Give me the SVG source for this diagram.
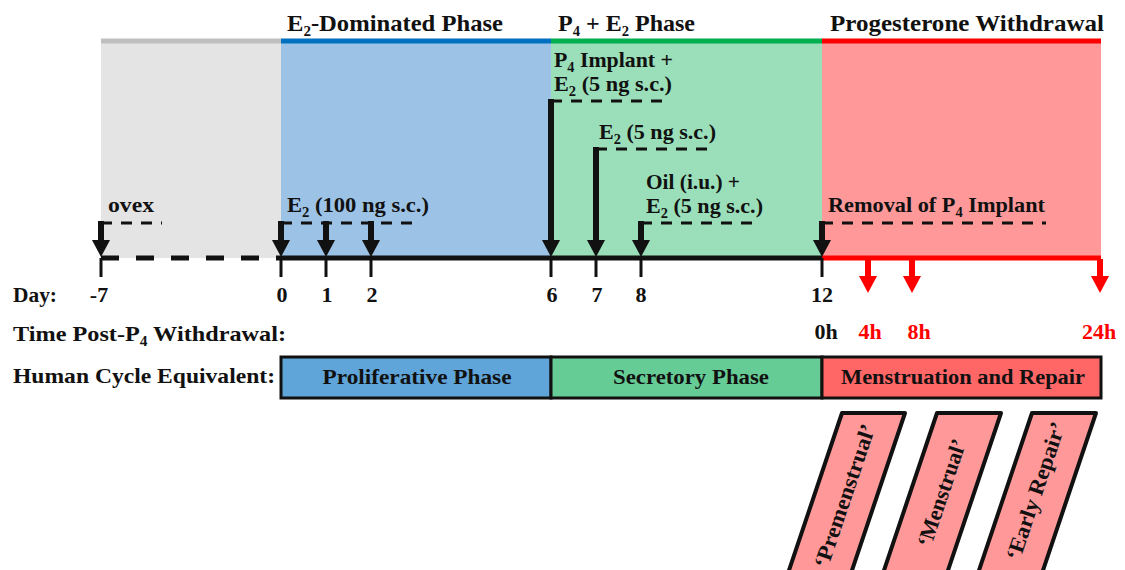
<svg xmlns="http://www.w3.org/2000/svg" xmlns:xlink="http://www.w3.org/1999/xlink" width="1125" height="570" viewBox="0 0 1125 570">
<style>
text{font-family:"Liberation Serif","Times New Roman",serif;font-weight:bold;fill:#111}
.t{font-size:23px}
.a{font-size:21.5px}
.l{font-size:22px}
.red{fill:#ff0000}
.sub{font-size:14px}
.dash{stroke:#111;stroke-width:3;stroke-dasharray:11 9;fill:none}
.tick{stroke:#111;stroke-width:3}
.shaft{stroke:#111;stroke-width:6}
.rshaft{stroke:#ff0000;stroke-width:6}
.box{stroke:#111;stroke-width:3}
.para{fill:#ff9999;stroke:#111;stroke-width:4;stroke-linejoin:round}
</style>
<defs>
<polygon id="ah" points="-9,-17 9,-17 0,0" fill="#111"/>
<polygon id="rah" points="-9,-17 9,-17 0,0" fill="#ff0000"/>
</defs>
<rect width="1125" height="570" fill="#ffffff"/>

<g id="band-ovex">
<rect x="101" y="43" width="180" height="215" fill="#e4e4e4"/>
<line x1="101" y1="41" x2="281" y2="41" stroke="#bfbfbf" stroke-width="5"/>
</g>
<g id="band-e2">
<rect x="281" y="43" width="270" height="215" fill="#9cc3e5"/>
<line x1="281" y1="41" x2="551" y2="41" stroke="#0070c0" stroke-width="5"/>
<text class="t" x="287" y="31" textLength="216" lengthAdjust="spacingAndGlyphs">E<tspan class="sub" dy="5">2</tspan><tspan dy="-5">-Dominated Phase</tspan></text>
</g>
<g id="band-p4e2">
<rect x="551" y="43" width="271" height="215" fill="#9adfb9"/>
<line x1="551" y1="41" x2="822" y2="41" stroke="#00b050" stroke-width="5"/>
<text class="t" x="558" y="31" textLength="137" lengthAdjust="spacingAndGlyphs">P<tspan class="sub" dy="5">4</tspan><tspan dy="-5"> + E</tspan><tspan class="sub" dy="5">2</tspan><tspan dy="-5"> Phase</tspan></text>
</g>
<g id="band-withdrawal">
<rect x="822" y="43" width="279" height="215" fill="#ff9999"/>
<line x1="822" y1="41" x2="1101" y2="41" stroke="#ff0000" stroke-width="5"/>
<text class="t" x="830" y="31" textLength="274" lengthAdjust="spacingAndGlyphs">Progesterone Withdrawal</text>
</g>

<g id="label-ovex"><text class="a" x="108" y="212" textLength="46" lengthAdjust="spacingAndGlyphs">ovex</text></g>
<g id="label-e2-100"><text class="a" x="287" y="212" textLength="142" lengthAdjust="spacingAndGlyphs">E<tspan class="sub" dy="5">2</tspan><tspan dy="-5"> (100 ng s.c.)</tspan></text></g>
<g id="label-p4-implant">
<text class="a" x="554" y="67" textLength="119" lengthAdjust="spacingAndGlyphs">P<tspan class="sub" dy="5">4</tspan><tspan dy="-5"> Implant +</tspan></text>
<text class="a" x="554" y="91" textLength="118" lengthAdjust="spacingAndGlyphs">E<tspan class="sub" dy="5">2</tspan><tspan dy="-5"> (5 ng s.c.)</tspan></text>
</g>
<g id="label-e2-5"><text class="a" x="599" y="139" textLength="117" lengthAdjust="spacingAndGlyphs">E<tspan class="sub" dy="5">2</tspan><tspan dy="-5"> (5 ng s.c.)</tspan></text></g>
<g id="label-oil">
<text class="a" x="646" y="189" textLength="94" lengthAdjust="spacingAndGlyphs">Oil (i.u.) +</text>
<text class="a" x="646" y="213" textLength="117" lengthAdjust="spacingAndGlyphs">E<tspan class="sub" dy="5">2</tspan><tspan dy="-5"> (5 ng s.c.)</tspan></text>
</g>
<g id="label-removal"><text class="a" x="828" y="212" textLength="217" lengthAdjust="spacingAndGlyphs">Removal of P<tspan class="sub" dy="5">4</tspan><tspan dy="-5"> Implant</tspan></text></g>

<g id="connectors">
<line x1="101" y1="258" x2="281" y2="258" stroke="#111" stroke-width="5" stroke-dasharray="18 17"/>
<line x1="281" y1="258" x2="822" y2="258" stroke="#111" stroke-width="5"/>
<line x1="822" y1="258" x2="1101" y2="258" stroke="#ff0000" stroke-width="5"/>
<line class="tick" x1="101" y1="258" x2="101" y2="277"/>
<line class="tick" x1="281" y1="258" x2="281" y2="277"/>
<line class="tick" x1="326" y1="258" x2="326" y2="277"/>
<line class="tick" x1="371" y1="258" x2="371" y2="277"/>
<line class="tick" x1="551" y1="258" x2="551" y2="277"/>
<line class="tick" x1="596" y1="258" x2="596" y2="277"/>
<line class="tick" x1="641" y1="258" x2="641" y2="277"/>
<line class="tick" x1="822" y1="258" x2="822" y2="277"/>
<path class="dash" d="M101,223 H162"/>
<path class="dash" d="M281,223 H420"/>
<path class="dash" d="M551,101 H668"/>
<path class="dash" d="M596,149 H714"/>
<path class="dash" d="M641,223 H758"/>
<path class="dash" d="M822,223 H1046"/>
<line class="shaft" x1="101" y1="221" x2="101" y2="243"/><use xlink:href="#ah" x="101" y="257"/>
<line class="shaft" x1="281" y1="221" x2="281" y2="243"/><use xlink:href="#ah" x="281" y="257"/>
<line class="shaft" x1="326" y1="221" x2="326" y2="243"/><use xlink:href="#ah" x="326" y="257"/>
<line class="shaft" x1="371" y1="221" x2="371" y2="243"/><use xlink:href="#ah" x="371" y="257"/>
<line class="shaft" x1="551" y1="99" x2="551" y2="243"/><use xlink:href="#ah" x="551" y="257"/>
<line class="shaft" x1="596" y1="147" x2="596" y2="243"/><use xlink:href="#ah" x="596" y="257"/>
<line class="shaft" x1="641" y1="221" x2="641" y2="243"/><use xlink:href="#ah" x="641" y="257"/>
<line class="shaft" x1="822" y1="221" x2="822" y2="243"/><use xlink:href="#ah" x="822" y="257"/>
<line class="rshaft" x1="868" y1="259" x2="868" y2="278"/><use xlink:href="#rah" x="868" y="293"/>
<line class="rshaft" x1="912" y1="259" x2="912" y2="278"/><use xlink:href="#rah" x="912" y="293"/>
<line class="rshaft" x1="1100" y1="259" x2="1100" y2="278"/><use xlink:href="#rah" x="1100" y="293"/>
</g>

<g id="day-axis" text-anchor="middle">
<text class="l" x="13" y="302" text-anchor="start" textLength="44" lengthAdjust="spacingAndGlyphs">Day:</text>
<text class="l" x="99" y="302">-7</text>
<text class="l" x="282" y="302">0</text>
<text class="l" x="327" y="302">1</text>
<text class="l" x="372" y="302">2</text>
<text class="l" x="552" y="302">6</text>
<text class="l" x="597" y="302">7</text>
<text class="l" x="641" y="302">8</text>
<text class="l" x="822" y="302">12</text>
</g>
<g id="time-axis" text-anchor="middle">
<text class="l" x="13" y="341" text-anchor="start" textLength="273" lengthAdjust="spacingAndGlyphs">Time Post-P<tspan class="sub" dy="5">4</tspan><tspan dy="-5"> Withdrawal:</tspan></text>
<text class="l" x="826" y="339">0h</text>
<text class="l red" x="870" y="339">4h</text>
<text class="l red" x="919" y="339">8h</text>
<text class="l red" x="1099" y="339">24h</text>
</g>
<g id="cycle-label"><text class="l" x="13" y="383" textLength="262" lengthAdjust="spacingAndGlyphs">Human Cycle Equivalent:</text></g>
<g id="box-proliferative">
<rect class="box" x="281" y="357" width="270" height="41" fill="#5fa5d9"/>
<text class="l" x="417" y="384" text-anchor="middle" textLength="189" lengthAdjust="spacingAndGlyphs">Proliferative Phase</text>
</g>
<g id="box-secretory">
<rect class="box" x="551" y="357" width="271" height="41" fill="#66cc96"/>
<text class="l" x="691" y="384" text-anchor="middle" textLength="156" lengthAdjust="spacingAndGlyphs">Secretory Phase</text>
</g>
<g id="box-menstruation">
<rect class="box" x="822" y="357" width="279" height="41" fill="#ff6666"/>
<text class="l" x="963" y="384" text-anchor="middle" textLength="244" lengthAdjust="spacingAndGlyphs">Menstruation and Repair</text>
</g>
<g id="stage-premenstrual">
<polygon class="para" points="842,413 905,413 842,600 779,600"/>
<text class="l" text-anchor="middle" transform="translate(845,496) rotate(-71.3)" dy="7" textLength="150" lengthAdjust="spacingAndGlyphs">‘Premenstrual’</text>
</g>
<g id="stage-menstrual">
<polygon class="para" points="937,413 1001,413 938,600 874,600"/>
<text class="l" text-anchor="middle" transform="translate(942,493) rotate(-71.3)" dy="7" textLength="112" lengthAdjust="spacingAndGlyphs">‘Menstrual’</text>
</g>
<g id="stage-early-repair">
<polygon class="para" points="1032,413 1096,413 1033,600 969,600"/>
<text class="l" text-anchor="middle" transform="translate(1036,491) rotate(-71.3)" dy="7" textLength="144" lengthAdjust="spacingAndGlyphs">‘Early Repair’</text>
</g>
</svg>
